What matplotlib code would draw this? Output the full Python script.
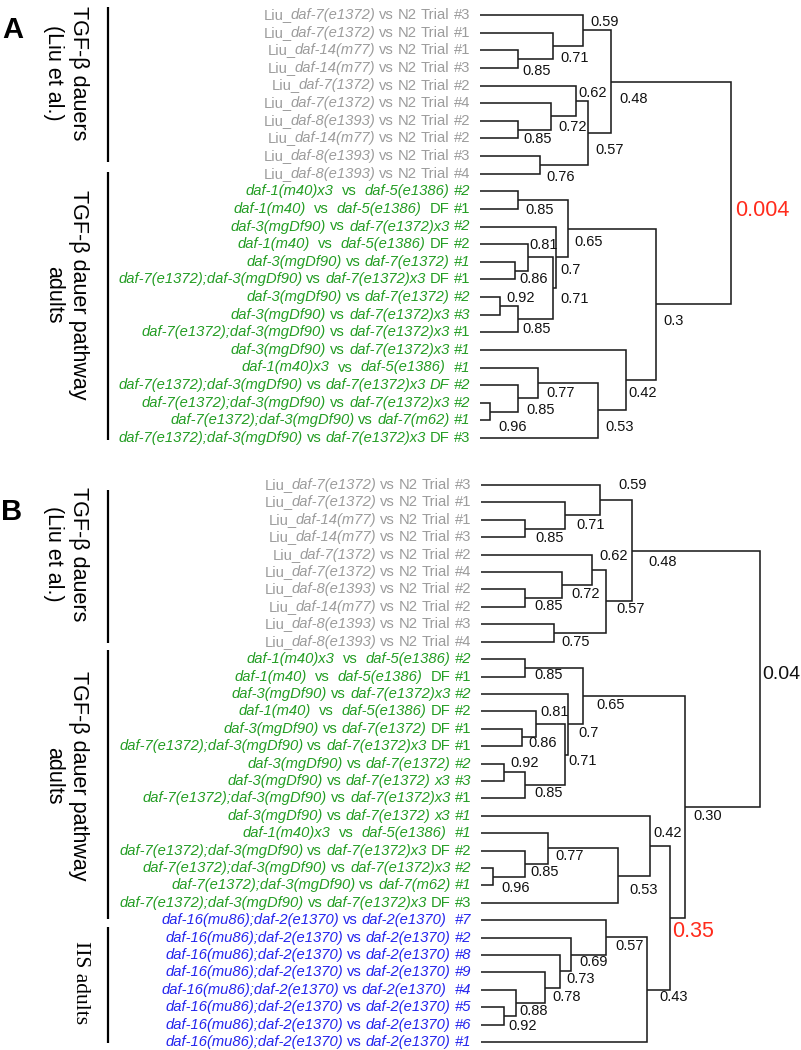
import re
import matplotlib
matplotlib.use("Agg")
import matplotlib.pyplot as plt

plt.rcParams['font.family'] = ['Liberation Sans', 'DejaVu Sans']

# ---------------- data ----------------
gray_labels = [
    "Liu_*daf-7(e1372)* vs N2 Trial #3",
    "Liu_*daf-7(e1372)* vs N2 Trial #1",
    "Liu_*daf-14(m77)* vs N2 Trial #1",
    "Liu_*daf-14(m77)* vs N2 Trial #3",
    "Liu_*daf-7(1372)* vs N2 Trial #2",
    "Liu_*daf-7(e1372)* vs N2 Trial #4",
    "Liu_*daf-8(e1393)* vs N2 Trial #2",
    "Liu_*daf-14(m77)* vs N2 Trial #2",
    "Liu_*daf-8(e1393)* vs N2 Trial #3",
    "Liu_*daf-8(e1393)* vs N2 Trial #4",
]
green_labels_A = [
    "*daf-1(m40)x3*  vs  *daf-5(e1386) #2*",
    "*daf-1(m40)*  vs  *daf-5(e1386)*  DF #1",
    "*daf-3(mgDf90)* vs *daf-7(e1372)x3 #2*",
    "*daf-1(m40)*  vs  *daf-5(e1386)* DF #2",
    "*daf-3(mgDf90)* vs *daf-7(e1372) #1*",
    "*daf-7(e1372);daf-3(mgDf90)* vs *daf-7(e1372)x3* DF #1",
    "*daf-3(mgDf90)* vs *daf-7(e1372) #2*",
    "*daf-3(mgDf90)* vs *daf-7(e1372)x3 #3*",
    "*daf-7(e1372);daf-3(mgDf90)* vs *daf-7(e1372)x3* #1",
    "*daf-3(mgDf90)* vs *daf-7(e1372)x3 #1*",
    "*daf-1(m40)x3*  vs  *daf-5(e1386)  #1*",
    "*daf-7(e1372);daf-3(mgDf90)* vs *daf-7(e1372)x3 DF #2*",
    "*daf-7(e1372);daf-3(mgDf90)* vs *daf-7(e1372)x3 #2*",
    "*daf-7(e1372);daf-3(mgDf90)* vs *daf-7(m62) #1*",
    "*daf-7(e1372);daf-3(mgDf90)* vs *daf-7(e1372)x3* DF #3",
]
green_labels_B = [
    "*daf-1(m40)x3*  vs  *daf-5(e1386) #2*",
    "*daf-1(m40)*  vs  *daf-5(e1386)*  DF #1",
    "*daf-3(mgDf90)* vs *daf-7(e1372)x3 #2*",
    "*daf-1(m40)*  vs  *daf-5(e1386)* DF #2",
    "*daf-3(mgDf90)* vs *daf-7(e1372)* DF #1",
    "*daf-7(e1372);daf-3(mgDf90)* vs *daf-7(e1372)x3* DF #1",
    "*daf-3(mgDf90)* vs *daf-7(e1372) #2*",
    "*daf-3(mgDf90)* vs *daf-7(e1372) x3 #3*",
    "*daf-7(e1372);daf-3(mgDf90)* vs *daf-7(e1372)x3* #1",
    "*daf-3(mgDf90)* vs *daf-7(e1372) x3 #1*",
    "*daf-1(m40)x3*  vs  *daf-5(e1386)  #1*",
    "*daf-7(e1372);daf-3(mgDf90)* vs *daf-7(e1372)x3* DF #2",
    "*daf-7(e1372);daf-3(mgDf90)* vs *daf-7(e1372)x3 #2*",
    "*daf-7(e1372);daf-3(mgDf90)* vs *daf-7(m62) #1*",
    "*daf-7(e1372);daf-3(mgDf90)* vs *daf-7(e1372)x3* DF #3",
]
blue_labels = [
    "*daf-16(mu86);daf-2(e1370)* vs *daf-2(e1370)  #7*",
    "*daf-16(mu86);daf-2(e1370)* vs *daf-2(e1370) #2*",
    "*daf-16(mu86);daf-2(e1370)* vs *daf-2(e1370) #8*",
    "*daf-16(mu86);daf-2(e1370)* vs *daf-2(e1370) #9*",
    "*daf-16(mu86);daf-2(e1370)* vs *daf-2(e1370)  #4*",
    "*daf-16(mu86);daf-2(e1370)* vs *daf-2(e1370) #5*",
    "*daf-16(mu86);daf-2(e1370)* vs *daf-2(e1370) #6*",
    "*daf-16(mu86);daf-2(e1370)* vs *daf-2(e1370) #1*",
]

# merges: (node name, child, child, correlation); ints are leaf indices
merges_gray_A = [
    ("g85a", 2, 3, "0.85"), ("g71", 1, "g85a", "0.71"), ("g59", 0, "g71", "0.59"),
    ("g85b", 6, 7, "0.85"), ("g72", 5, "g85b", "0.72"), ("g62", 4, "g72", "0.62"),
    ("g76", 8, 9, "0.76"), ("g57", "g62", "g76", "0.57"), ("g48", "g59", "g57", "0.48"),
]
merges_gray_B = [
    ("g85a", 2, 3, "0.85"), ("g71", 1, "g85a", "0.71"), ("g59", 0, "g71", "0.59"),
    ("g85b", 6, 7, "0.85"), ("g72", 5, "g85b", "0.72"), ("g62", 4, "g72", "0.62"),
    ("g76", 8, 9, "0.75"), ("g57", "g62", "g76", "0.57"), ("g48", "g59", "g57", "0.48"),
]
merges_green = [
    ("t85a", 10, 11, "0.85"), ("t86", 14, 15, "0.86"), ("t81", 13, "t86", "0.81"),
    ("t92", 16, 17, "0.92"), ("t85b", "t92", 18, "0.85"), ("t71", "t81", "t85b", "0.71"),
    ("t70", 12, "t71", "0.7"), ("t65", "t85a", "t70", "0.65"),
    ("t96", 22, 23, "0.96"), ("t85c", 21, "t96", "0.85"), ("t77", 20, "t85c", "0.77"),
    ("t53", "t77", 24, "0.53"), ("t42", 19, "t53", "0.42"),
]
merges_top_A = [("t30", "t65", "t42", "0.3"), ("root", "g48", "t30", "0.004")]
merges_blue_B = [
    ("b92", 30, 31, "0.92"), ("b88", 29, "b92", "0.88"), ("b78", 28, "b88", "0.78"),
    ("b73", 27, "b78", "0.73"), ("b69", 26, "b73", "0.69"), ("b57", 25, "b69", "0.57"),
    ("b43", "b57", 32, "0.43"), ("t35", "t42", "b43", "0.35"),
    ("t30", "t65", "t35", "0.30"), ("root", "g48", "t30", "0.04"),
]

# ---------------- style ----------------
GRAY = "#9c9c9c"
GREEN = "#239d23"
BLUE = "#2424ee"
RED = "#ff2b1c"
LINE = "#1e1e1e"
W, H, DPI = 801, 1050, 100
LEAF_FS = 10.6
NUM_FS = 10.5

# label offsets (px right, px down) from node point
offs_A = {
    "g85a": (5, 11.6), "g71": (7, 12.5), "g59": (7, -8.7), "g85b": (6, 9.7),
    "g72": (8, 10.4), "g62": (3, -7.6), "g76": (6, 12), "g57": (7.5, 17), "g48": (8, 17.7),
    "t85a": (8, 10), "t86": (4, 8.7), "t81": (1, -12.3), "t92": (6, -7.5),
    "t85b": (4.5, 10.3), "t71": (7, 11), "t70": (4.6, 12.7), "t65": (6, 13),
    "t96": (8.4, 15), "t85c": (8.5, 11.7), "t77": (8.7, 10.4), "t53": (7, 16.2),
    "t42": (2.3, 13), "t30": (7, 16.3), "root": (4, 17),
}
offs_B = {
    "g85a": (11, 9.8), "g71": (10.6, 9.5), "g59": (18, -15), "g85b": (9.6, 7.8),
    "g72": (9.2, 8.9), "g62": (7.7, -13.9), "g76": (8, 8.7), "g57": (10.6, 8), "g48": (16, 11),
    "t85a": (9.6, 7.2), "t86": (6.6, 5.3), "t81": (4.4, -12.7), "t92": (6.4, -9.6),
    "t85b": (9.6, 8), "t71": (3, 5.8), "t70": (10, 9), "t65": (13.8, 9),
    "t96": (9, 11.6), "t85c": (6, 8), "t77": (7.7, 7.3), "t53": (12, 14.3), "t42": (3.3, -12.5),
    "b92": (4, 9.7), "b88": (3.4, 8), "b78": (7.3, 9), "b73": (7, 8), "b69": (7.8, 7),
    "b57": (9, 8.3), "b43": (12.4, 7), "t35": (1.5, 14), "t30": (8.6, 9), "root": (1.5, -4),
}
big_A = {"root": (RED, 15.5)}
big_B = {"t35": (RED, 15.5), "root": ("#111111", 14)}

fig = plt.figure(figsize=(W / DPI, H / DPI), dpi=DPI)


def make_axes(top_px, bot_px, leaf_px, scale, y0_px, dy_px):
    ax = fig.add_axes([0, 1 - bot_px / H, 1, (bot_px - top_px) / H])
    ax.set_xlim(1 + leaf_px / scale, 1 - (W - leaf_px) / scale)
    ax.set_ylim((bot_px - y0_px) / dy_px, (top_px - y0_px) / dy_px)
    ax.axis("off")
    return ax


def draw_leaf_label(ax, y, markup, color):
    tokens = []
    for k, part in enumerate(markup.split("*")):
        for m in re.finditer(r"\s+|\S+", part):
            s = m.group()
            tokens.append(("gap" if s.isspace() else "txt", s, k % 2 == 1))
    space_px = 0.278 * LEAF_FS * DPI / 72
    gap = 10.0
    anchor = None
    for kind, s, it in reversed(tokens):
        if kind == "gap":
            gap = len(s) * space_px + (10.0 if anchor is None else 0.0)
            continue
        kw = dict(xytext=(-gap, 0), textcoords="offset pixels", ha="right", va="center",
                  fontsize=LEAF_FS, color=color, style="italic" if it else "normal",
                  annotation_clip=False)
        if anchor is None:
            anchor = ax.annotate(s, xy=(1.0, y), xycoords="data", **kw)
        else:
            anchor = ax.annotate(s, xy=(0, 0.5), xycoords=anchor, **kw)
        gap = -1.5  # adjacent tokens without a space sit tight


def draw_tree(ax, merges, n_leaves, offs, big):
    pos = {i: (1.0, float(i)) for i in range(n_leaves)}
    for name, a, b, txt in merges:
        r = float(txt)
        xa, ya = pos[a]
        xb, yb = pos[b]
        ax.plot([xa, r, r, xb], [ya, ya, yb, yb], color=LINE, lw=1.15,
                solid_joinstyle="miter", solid_capstyle="butt")
        ym = (ya + yb) / 2
        pos[name] = (r, ym)
        dx, dy = offs[name]
        color, fs = big.get(name, ("#111111", NUM_FS))
        ax.annotate(txt, xy=(r, ym), xytext=(dx, -dy), textcoords="offset pixels",
                    ha="left", va="center", fontsize=fs, color=color, annotation_clip=False)


def bracket(ax, y0, y1):
    ax.plot([108 / W, 108 / W], [y0, y1], transform=ax.get_yaxis_transform(),
            color="black", lw=1.6, solid_capstyle="butt", clip_on=False)


def group_text(ax, xpx, y, txt, **kw):
    ax.text(xpx / W, y, txt, transform=ax.get_yaxis_transform(), rotation=-90,
            ha="center", va="center", multialignment="center", **kw)


# ---------------- panel A ----------------
axA = make_axes(0, 460, 480, 252, 15, 17.625)
leavesA = [(t, GRAY) for t in gray_labels] + [(t, GREEN) for t in green_labels_A]
for i, (t, c) in enumerate(leavesA):
    draw_leaf_label(axA, i, t, c)
draw_tree(axA, merges_gray_A + merges_green + merges_top_A, len(leavesA), offs_A, big_A)
bracket(axA, -0.45, 8.34)
bracket(axA, 8.9, 24.1)
group_text(axA, 66, 3.3, "TGF-β dauers\n(Liu et al.)", fontsize=15.5, linespacing=1.3)
group_text(axA, 66, 15.9, "TGF-β dauer pathway\nadults", fontsize=15.5, linespacing=1.2)
axA.text(13 / W, -0.85 + 30 / 17.625, "A", transform=axA.get_yaxis_transform(),
         ha="center", va="center", fontsize=21, fontweight="bold")

# ---------------- panel B ----------------
axB = make_axes(470, 1050, 481, 291, 485, 17.41)
leavesB = ([(t, GRAY) for t in gray_labels] + [(t, GREEN) for t in green_labels_B]
           + [(t, BLUE) for t in blue_labels])
for i, (t, c) in enumerate(leavesB):
    draw_leaf_label(axB, i, t, c)
draw_tree(axB, merges_gray_B + merges_green + merges_blue_B, len(leavesB), offs_B, big_B)
bracket(axB, 0.29, 9.08)
bracket(axB, 9.48, 24.9)
bracket(axB, 25.4, 32.05)
group_text(axB, 66, 3.96, "TGF-β dauers\n(Liu et al.)", fontsize=15.5, linespacing=1.3)
group_text(axB, 66, 16.7, "TGF-β dauer pathway\nadults", fontsize=15.5, linespacing=1.2)
group_text(axB, 81, 28.6, "IIS adults", fontsize=15.5,
           family=["Liberation Serif", "DejaVu Serif"])
axB.text(12 / W, (512 - 485) / 17.41, "B", transform=axB.get_yaxis_transform(),
         ha="center", va="center", fontsize=21, fontweight="bold")

fig.savefig("out.png", dpi=DPI)
